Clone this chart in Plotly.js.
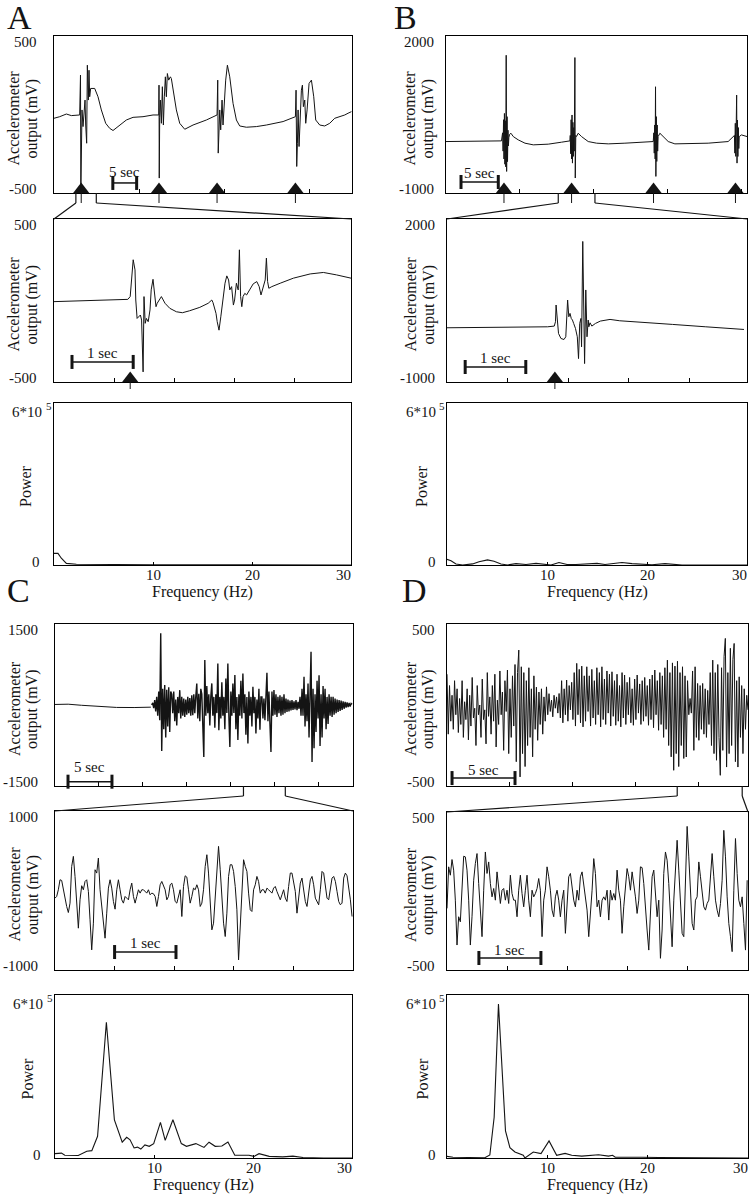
<!DOCTYPE html>
<html><head><meta charset="utf-8">
<script src="https://cdn.plot.ly/plotly-3.0.1.min.js"></script>
<style>html,body{margin:0;padding:0;background:#fff}#chart{width:750px;height:1199px}</style>
</head><body><div id="chart"></div>
<script>
// ================= DATA =================
// --- A: accelerometer, long record (s, mV)
const a1T = [0,1.17,2.54,3.57,5.28,5.45,5.52,5.6,5.76,5.97,6.17,6.38,6.52,6.72,6.86,7.06,7.2,7.34,7.54,8.37,9.05,9.74,10.63,11.45,12.14,13.51,14.88,16.26,18.31,20.37,21.55,21.6,21.65,21.74,21.88,22.09,22.29,22.5,22.7,22.91,23.11,23.32,23.59,23.94,24.14,24.62,25.17,25.86,26.89,28.6,31.34,33.54,33.68,33.78,34.09,34.29,34.57,34.77,34.98,35.32,35.67,36.15,36.83,37.52,38.2,39.57,41.63,43.69,47.12,49.66,49.79,49.93,50.07,50.21,50.41,50.62,50.89,51.1,51.3,51.58,51.78,52.06,52.47,52.95,53.43,53.84,54.66,55.69,56.72,57.75,58.78,59.81,60.49,61.18];
const a1V = [-24,-14,3,-7,-3,251,-500,-77,29,-77,50,92,-67,-183,314,92,282,113,166,166,113,29,-56,-88,-102,-67,-35,-18,-14,-3,-3,187,-405,-20,92,-56,177,-67,113,240,113,261,219,240,229,134,29,-56,-94,-67,-35,-3,219,-246,29,-98,92,-67,50,219,314,240,71,-35,-73,-81,-77,-67,-45,-14,155,-331,-183,29,-204,-35,155,187,50,92,-56,29,198,219,113,-35,-67,-73,-56,-24,-14,-3,8,18];
const a1Events = [5.6, 21.6, 33.54, 49.66];
// --- A: zoomed record
const a2T = [0,0.48,0.93,1.23,1.27,1.3,1.32,1.35,1.363,1.385,1.42,1.44,1.46,1.485,1.5,1.52,1.54,1.57,1.6,1.62,1.65,1.67,1.7,1.72,1.75,1.79,1.85,1.93,2.04,2.14,2.26,2.43,2.57,2.63,2.65,2.7,2.72,2.75,2.78,2.81,2.85,2.88,2.91,2.93,2.96,2.99,3.01,3.04,3.07,3.09,3.11,3.13,3.15,3.18,3.21,3.26,3.32,3.38,3.42,3.45,3.49,3.52,3.54,3.56,3.58,3.63,3.77,3.99,4.27,4.49,4.71,4.95];
const a2V = [-7,-3,3,7,24,188,250,188,3,-110,-100,-89,-120,-438,24,-140,-110,-130,-58,65,130,65,-38,-17,3,24,-17,-48,-69,-75,-63,-42,-17,3,-13,-79,-130,-182,-100,3,106,151,126,65,85,-28,3,106,65,311,24,-38,24,44,34,65,102,116,85,34,85,126,260,116,75,85,106,137,163,172,157,137];
const a2Events = [1.27];
// --- A: power spectrum (Hz, power in units of 10^5)
const a3F = [0,0.4,0.74,1.25,2.26,4.6,10,20,30];
const a3P = [0.43,0.43,0.25,0.06,0.03,0.02,0.01,0.005,0];

// --- B
const b1T = [0,3.9,7.5,7.65,7.72,7.78,7.84,7.9,7.96,8.02,8.08,8.14,8.2,8.26,8.32,8.38,8.44,8.5,8.6,8.78,9.1,9.77,10.68,11.8,13.83,15.63,16.76,16.8,16.86,16.92,16.98,17.04,17.1,17.16,17.22,17.28,17.34,17.43,17.48,17.55,17.65,17.88,18.33,19.23,20.36,21.94,24.19,26.44,28.02,28.1,28.16,28.22,28.28,28.33,28.38,28.44,28.5,28.56,28.62,28.68,28.92,29.37,30.05,30.95,33.2,35.45,38.15,39.0,39.06,39.12,39.18,39.24,39.3,39.35,39.41,39.47,39.53,39.59,39.65,39.95,40.41,40.72];
const b1V = [-17,-17,-4,150,-200,400,-350,520,-450,380,-500,1632,-588,459,-400,200,-100,60,120,142,78,15,-48,-80,-67,-29,-4,100,-250,400,-350,491,-429,350,-300,250,-200,1588,-714,100,80,142,78,-17,-48,-61,-48,-36,-17,150,-239,300,-350,1030,-683,459,-397,300,-200,78,142,78,-17,-61,-61,-48,-17,100,-239,332,-300,400,871,-429,395,-302,250,-150,78,110,91,78];
const b1Events = [7.84, 16.98, 28.06, 39.14];
const b2T = [0,1.01,1.66,1.77,1.79,1.8,1.82,1.84,1.88,1.93,1.96,1.97,1.99,2.01,2.03,2.05,2.07,2.09,2.12,2.15,2.17,2.19,2.21,2.22,2.24,2.27,2.29,2.31,2.33,2.34,2.36,2.39,2.45,2.53,2.69,2.85,3.18,3.72,4.27,4.9];
const b2V = [-2,4,16,29,109,417,78,-107,-199,-218,-168,201,509,201,263,170,140,78,-14,-168,-569,78,170,-353,1587,-661,694,-168,140,16,90,29,78,121,152,127,97,60,16,-33];
const b2Events = [1.78];
const b3F = [0,0.4,0.9,1.56,2.56,3.2,4.05,4.7,5.4,6.05,6.9,7.9,8.9,9.7,10.4,11.2,12.0,12.9,14.2,15.0,15.8,17.5,18.5,19.5,20.5,21.8,22.8,23.5,30];
const b3P = [0.21,0.16,0.04,0,0.04,0.12,0.19,0.14,0.04,0,0.05,0.02,0.06,0.02,0,0.09,0.02,0.02,0.05,0.06,0.02,0.09,0.05,0.02,0.01,0.05,0.01,0,0];

// --- C
const c1QuietT = [0,0.8,1.5,3.0,5.0,7.0,9.0,10.5,10.9];
const c1QuietV = [10,20,15,-5,-30,-45,-47,-45,-40];
const c1Start = 11.0, c1Step = 0.114;   // sample interval of the active record
const c1ActiveV = [
 0,40,-60,90,-120,150,-200,250,-280,1330,
 -850,300,-450,368,-600,280,-400,330,-500,250,
 200,-150,250,-300,100,-380,150,-150,275,-250,
 150,-200,120,-220,100,-180,150,-150,130,-200,
 180,-190,200,-150,160,399,-250,210,-300,300,
 200,-250,-962,832,-200,350,-150,200,-380,150,
 400,-200,150,-420,200,-150,770,-467,150,-250,
 420,-200,150,-450,492,-150,770,-200,-776,250,
 -200,400,-150,554,-450,150,-650,200,-200,450,
 -250,584,-150,200,-550,150,-715,250,-200,150,
 -400,337,-150,150,-529,100,-250,300,-460,150,
 150,-250,120,-280,200,597,-300,250,-350,-869,
 250,-200,275,-180,200,-220,150,-150,180,-200,
 150,-180,200,-150,120,-130,100,-120,80,-100,
 90,-90,70,-80,90,-96,60,-70,150,-200,
 300,-200,523,-400,200,-300,400,-600,200,987,
 -1055,300,-800,200,-500,450,-250,550,-760,200,
 -600,350,-250,300,-450,150,-350,200,-200,150,
 -220,150,-180,120,-150,100,-130,90,-110,80,
 -90,70,-70,60,-50,50,-40,40,-30,30,15];
const c2Step = 0.028;
const c2V = [
 -96,-75,9,135,126,9,-117,-201,-277,-159,
 303,429,177,-159,-474,-117,60,9,114,135,
 -12,-369,-747,-411,261,219,408,9,-222,-369,
 -600,-285,30,135,30,-138,-235,9,135,9,
 -117,-159,-75,-96,-117,9,93,-75,-159,-75,
 9,-33,9,9,-12,-33,9,-54,-33,-41,
 -75,-201,-75,72,114,51,9,-117,-75,72,
 93,9,-138,-159,-66,9,-327,51,185,168,
 9,-159,-75,30,9,72,9,-201,-159,9,
 303,450,219,-159,-495,-411,-75,261,555,261,
 -117,-411,-579,-285,177,324,324,240,51,-243,
 -873,-411,51,387,303,240,-33,-243,-264,9,
 72,177,114,-33,9,9,-33,30,9,-12,
 -33,30,51,-12,-54,-117,-54,9,-96,-138,
 51,219,219,93,-12,-285,-96,93,156,9,
 -138,-201,-12,135,177,72,-96,-138,-180,9,
 240,219,72,-96,-117,30,156,177,114,-12,
 -138,-180,-159,156,219,185,51,-117,-327];
const c3F = [0,0.65,0.99,2.35,3.21,3.72,4.3,5.19,6.0,6.79,7.24,7.58,7.99,8.33,8.67,9.08,9.52,9.97,10.65,11.13,11.91,12.76,13.28,13.79,14.23,15.05,15.56,16.18,16.86,17.47,18.16,19.59,20.1,20.61,21.64,23.0,24.03,25.05,27.1,30];
const c3P = [0.16,0.18,0.1,0.09,0.25,0.27,0.8,5.0,1.4,0.58,0.76,0.67,0.37,0.4,0.33,0.48,0.43,0.53,1.31,0.65,1.41,0.53,0.43,0.47,0.53,0.39,0.58,0.43,0.44,0.59,0.1,0.1,0.06,0.16,0.06,0.04,0.07,0.02,0,0];

// --- D
const d1Step = 0.1;
const d1V = [
 190,-180,120,-100,60,-150,150,-60,100,-170,
 40,-120,150,-200,20,-90,100,-215,60,-130,
 170,-80,-20,-250,120,-60,0,-200,160,-90,
 -30,-240,200,-70,50,-180,120,-100,190,-259,
 30,-120,210,-60,80,-280,150,-40,216,-300,
 100,-200,180,-130,250,-350,200,339,-444,236,
 -300,200,-380,150,-250,230,-200,100,-320,180,
 -150,110,-218,80,-120,100,-180,50,-100,112,
 -60,70,-40,30,-73,60,-20,50,-50,71,
 -80,150,-110,100,-60,154,-100,120,-30,140,
 -90,200,-130,257,-60,220,-110,240,-135,180,
 -100,236,-40,180,-130,220,-80,150,-120,230,
 -60,200,-135,236,-90,160,-120,210,-50,190,
 -130,205,-70,150,-125,190,-100,120,-135,200,
 -80,185,-120,140,-60,170,-110,100,-125,160,
 -90,185,-50,130,-120,150,-100,170,-70,120,
 -125,160,-90,185,-140,216,-60,150,-156,200,
 -120,180,-200,230,-150,277,-250,200,-320,260,
 -403,240,-300,270,-380,200,-250,236,-330,180,
 -321,150,-60,40,-50,210,-280,236,-200,133,
 -218,120,-150,133,-180,100,-200,90,-120,200,
 -250,277,-300,200,-341,250,-200,-434,230,-280,
 300,411,-383,200,-300,350,-250,280,380,-350,
 150,-383,174,-200,120,-300,100,-150,60,-30];
const d2Step = 0.0277;
const d2V = [
 -110,153,100,199,132,-58,-342,-163,-195,5,
 220,216,132,-58,-342,-163,68,174,237,47,
 -142,-289,5,247,111,184,47,-37,16,-58,
 121,5,-79,5,16,-58,5,-79,100,-16,
 -58,-58,-163,5,100,-16,-100,5,100,-58,
 -163,5,-37,-16,16,79,5,-289,-58,5,
 153,90,5,-121,-163,-37,5,-58,-163,-58,
 5,-268,-100,90,111,5,-58,-100,5,-58,
 90,121,47,-58,-121,-289,-163,5,205,111,
 -100,-58,-163,-58,-37,-58,5,-184,5,-58,
 -16,-58,132,5,-58,-268,-100,5,142,90,
 5,121,47,-37,-142,-58,153,148,47,-121,
 -247,-374,-100,90,132,-58,-163,-58,-426,-247,
 111,247,195,47,-163,-353,-58,153,321,132,
 -79,-268,-289,5,409,216,5,-205,-247,-58,
 -37,184,90,5,-100,-121,-79,-58,90,237,
 90,-58,-121,-163,-79,68,384,216,-37,-205,
 -289,-384,5,332,111,-58,-100,-37,-205,-374,
 68];
const d3F = [0,0.6,3.77,4.27,4.7,5.13,5.83,6.27,6.77,7.6,7.77,8.6,9.37,10.17,10.93,11.77,12.43,13.43,15.1,16.1,16.5,16.77,19.43,21.1,30];
const d3P = [0.06,0.03,0.01,0.11,1.5,5.67,1.0,0.38,0.22,0.1,0.0,0.22,0.16,0.63,0.1,0.17,0.1,0.07,0.12,0.07,0.1,0.03,0.03,0.02,0];

// zoom windows (s) in the long records, and scale bars [t0, t1, level mV, label]
const zoomA = [4.5, 8.7], zoomB = [15.18, 20.14], zoomC = [21.44, 26.2], zoomD = [18.28, 23.44];
const barA1 = [12.1, 17.0, -436, '5 sec'], barA2 = [0.3, 1.32, -377, '1 sec'];
const barB1 = [2.03, 7.07, -790, '5 sec'], barB2 = [0.3, 1.3, -724, '1 sec'];
const barC1 = [1.48, 6.48, -1420, '5 sec'], barC2 = [1.0, 2.03, -774, '1 sec'];
const barD1 = [0.4, 5.4, -451, '5 sec'], barD2 = [0.53, 1.56, -424, '1 sec'];
const freqTicks = [10, 20, 30];

// ================= LAYOUT =================
const W = 750, H = 1199;
const FONT = 'Liberation Serif';
const INK = '#141414';

const PANELS = {
  A1:{box:[54,36,352,193],  xr:[0,61.3], yr:[-500,500],   ticks:[17.5,35,52.5], lab:['500','-500'],   col:'L'},
  A2:{box:[54,219,351,382], xr:[0,4.95], yr:[-500,500],   ticks:[1,2,3,4],      lab:['500','-500'],   col:'L'},
  A3:{box:[54,403,351,565], xr:[0,30],   yr:[0,6],        power:true,           col:'L'},
  B1:{box:[446,36,747,193], xr:[0,40.7], yr:[-1000,2000], ticks:[10,20,30,40],  lab:['2000','-1000'], col:'R'},
  B2:{box:[447,219,747,382],xr:[0,4.95], yr:[-1000,2000], ticks:[1,2,3,4],      lab:['2000','-1000'], col:'R'},
  B3:{box:[447,403,747,565],xr:[0,30],   yr:[0,6],        power:true,           col:'R'},
  C1:{box:[55,624,353,786], xr:[0,33.9], yr:[-1500,1500], ticks:[5,10,15,20,25,30], lab:['1500','-1500'], col:'L', dense:1.4},
  C2:{box:[55,811,353,970], xr:[0,5.0],  yr:[-1000,1000], ticks:[1,2,3,4],      lab:['1000','-1000'], col:'L'},
  C3:{box:[55,995,352,1158],xr:[0,30],   yr:[0,6],        power:true,           col:'L'},
  D1:{box:[447,624,748,786],xr:[0,23.9], yr:[-500,500],   ticks:[5,10,15,20],   lab:['500','-500'],   col:'R', dense:1.0},
  D2:{box:[447,812,748,970],xr:[0,5.0],  yr:[-500,500],   ticks:[1,2,3,4],      lab:['500','-500'],   col:'R'},
  D3:{box:[447,995,748,1158],xr:[0,30],  yr:[0,6],        power:true,           col:'R'}
};
const COLSTYLE = {
  L:{gap:16, t1:-41, t2:-23, pw:-28, zero:13, six:11, sup:5},
  R:{gap:11, t1:-37, t2:-19, pw:-25, zero:10, six:10, sup:5}
};

const layout = {
  width:W, height:H, margin:{l:0,r:0,t:0,b:0},
  paper_bgcolor:'#fff', plot_bgcolor:'rgba(0,0,0,0)', showlegend:false,
  font:{family:FONT, color:INK}, shapes:[], annotations:[]
};
const traces = [];

Object.keys(PANELS).forEach((n,i)=>{
  const k=i+1, s=k===1?'':String(k), p=PANELS[n], [l,t,r,b]=p.box;
  p.xa='x'+s; p.ya='y'+s;
  layout['xaxis'+s] = {domain:[l/W,r/W], anchor:'y'+s, range:p.xr, fixedrange:true,
    showgrid:false, zeroline:false, showline:true, mirror:true, linecolor:'#000', linewidth:1,
    ticks:'inside', ticklen:p.power?3:4, tickwidth:1, tickcolor:'#000',
    tickmode:'array', tickvals:p.power?freqTicks:p.ticks, showticklabels:false};
  layout['yaxis'+s] = {domain:[1-b/H,1-t/H], anchor:'x'+s, range:p.yr, fixedrange:true,
    showgrid:false, zeroline:false, showline:true, mirror:true, linecolor:'#000', linewidth:1,
    ticks:'', showticklabels:false};
});

function toPx(n,tv,vv){const p=PANELS[n],[l,t,r,b]=p.box;
  return [l+(tv-p.xr[0])/(p.xr[1]-p.xr[0])*(r-l), b-(vv-p.yr[0])/(p.yr[1]-p.yr[0])*(b-t)];}
function segPx(x0,y0,x1,y1,w){layout.shapes.push({type:'line',xref:'paper',yref:'paper',
  x0:x0/W,y0:1-y0/H,x1:x1/W,y1:1-y1/H,line:{color:INK,width:w||1}});}
function ann(text,x,y,o){o=o||{};layout.annotations.push({text,x:x/W,y:1-y/H,xref:'paper',yref:'paper',
  showarrow:false,xanchor:o.xa||'center',yanchor:'middle',textangle:o.angle||0,borderpad:0,
  font:{family:FONT,size:o.size||15,color:INK}});}
function lineTrace(n,x,y,w){const p=PANELS[n];
  traces.push({type:'scatter',mode:'lines',x,y,xaxis:p.xa,yaxis:p.ya,line:{color:INK,width:w||1},hoverinfo:'skip'});}
function sampledTrace(n,x0,dx,y,w){const p=PANELS[n];
  traces.push({type:'scatter',mode:'lines',x0,dx,y,xaxis:p.xa,yaxis:p.ya,line:{color:INK,width:w||1},hoverinfo:'skip'});}
function events(n,times,below){const p=PANELS[n],[l,t,r,b]=p.box,size=14;
  const yv=p.yr[0]+(size/4)/(b-t)*(p.yr[1]-p.yr[0]);
  traces.push({type:'scatter',mode:'markers',x:times,y:times.map(()=>yv),xaxis:p.xa,yaxis:p.ya,
    cliponaxis:false,marker:{symbol:'triangle-up',size,color:INK,line:{width:0}},hoverinfo:'skip'});
  times.forEach(tv=>{const x=toPx(n,tv,0)[0]; segPx(x,b,x,b+below,1);});}
function connector(g,win){const T=PANELS[g+'1'],Z=PANELS[g+'2'],b=T.box[3],drop=Z.box[1]-b>20?10:9;
  win.forEach((w,j)=>{const x=toPx(g+'1',w,0)[0];segPx(x,b,x,b+drop,1.2);
    segPx(x,b+drop,j===0?Z.box[0]:Z.box[2],Z.box[1],1.2);});}
function scaleBar(n,bar,gap){const [a,z,v,txt]=bar;const [x0,y]=toPx(n,a,v),x1=toPx(n,z,v)[0];
  segPx(x0,y,x1,y,1.5); segPx(x0,y-7,x0,y+7,3); segPx(x1,y-7,x1,y+7,3);
  ann(txt,(x0+x1)/2,y-gap,{size:15});}

// traces
lineTrace('A1',a1T,a1V); events('A1',a1Events,10);
lineTrace('A2',a2T,a2V); events('A2',a2Events,7);
lineTrace('A3',a3F,a3P,1.1);
lineTrace('B1',b1T,b1V); events('B1',b1Events,10);
lineTrace('B2',b2T,b2V); events('B2',b2Events,7);
lineTrace('B3',b3F,b3P,1.1);
lineTrace('C1',c1QuietT,c1QuietV); sampledTrace('C1',c1Start,c1Step,c1ActiveV,PANELS.C1.dense);
sampledTrace('C2',0,c2Step,c2V);
lineTrace('C3',c3F,c3P,1.1);
sampledTrace('D1',0,d1Step,d1V,PANELS.D1.dense);
sampledTrace('D2',0,d2Step,d2V);
lineTrace('D3',d3F,d3P,1.1);

connector('A',zoomA); connector('B',zoomB); connector('C',zoomC); connector('D',zoomD);
scaleBar('A1',barA1,11); scaleBar('A2',barA2,9); scaleBar('B1',barB1,9); scaleBar('B2',barB2,9);
scaleBar('C1',barC1,15); scaleBar('C2',barC2,9); scaleBar('D1',barD1,8); scaleBar('D2',barD2,8);

// text
Object.keys(PANELS).forEach(n=>{
  const p=PANELS[n],[l,t,r,b]=p.box,cs=COLSTYLE[p.col],cy=(t+b)/2;
  if(!p.power){
    ann(p.lab[0],l-cs.gap,t+6,{xa:'right'}); ann(p.lab[1],l-cs.gap,b-4,{xa:'right'});
    ann('Accelerometer',l+cs.t1,cy+4,{angle:-90,size:16});
    ann('output (mV)',l+cs.t2,cy+4,{angle:-90,size:16});
  } else {
    ann('6*10',l-cs.six,t+9,{xa:'right'}); ann('5',l-cs.sup,t+3,{size:11});
    ann('0',l-cs.zero,b-3,{xa:'right'});
    ann('Power',l+cs.pw,cy+2,{angle:-90,size:16});
    freqTicks.forEach(f=>{const x=toPx(n,f,0)[0]; ann(String(f),f===30?x-8:x,b+10,{size:15});});
    ann('Frequency (Hz)',(l+r)/2,b+27,{size:16});
  }
});
ann('A',19,18,{size:34}); ann('B',405,18,{size:34});
ann('C',18,590,{size:34}); ann('D',414,590,{size:34});

Plotly.newPlot('chart',traces,layout,{staticPlot:true,displayModeBar:false});
</script></body></html>
